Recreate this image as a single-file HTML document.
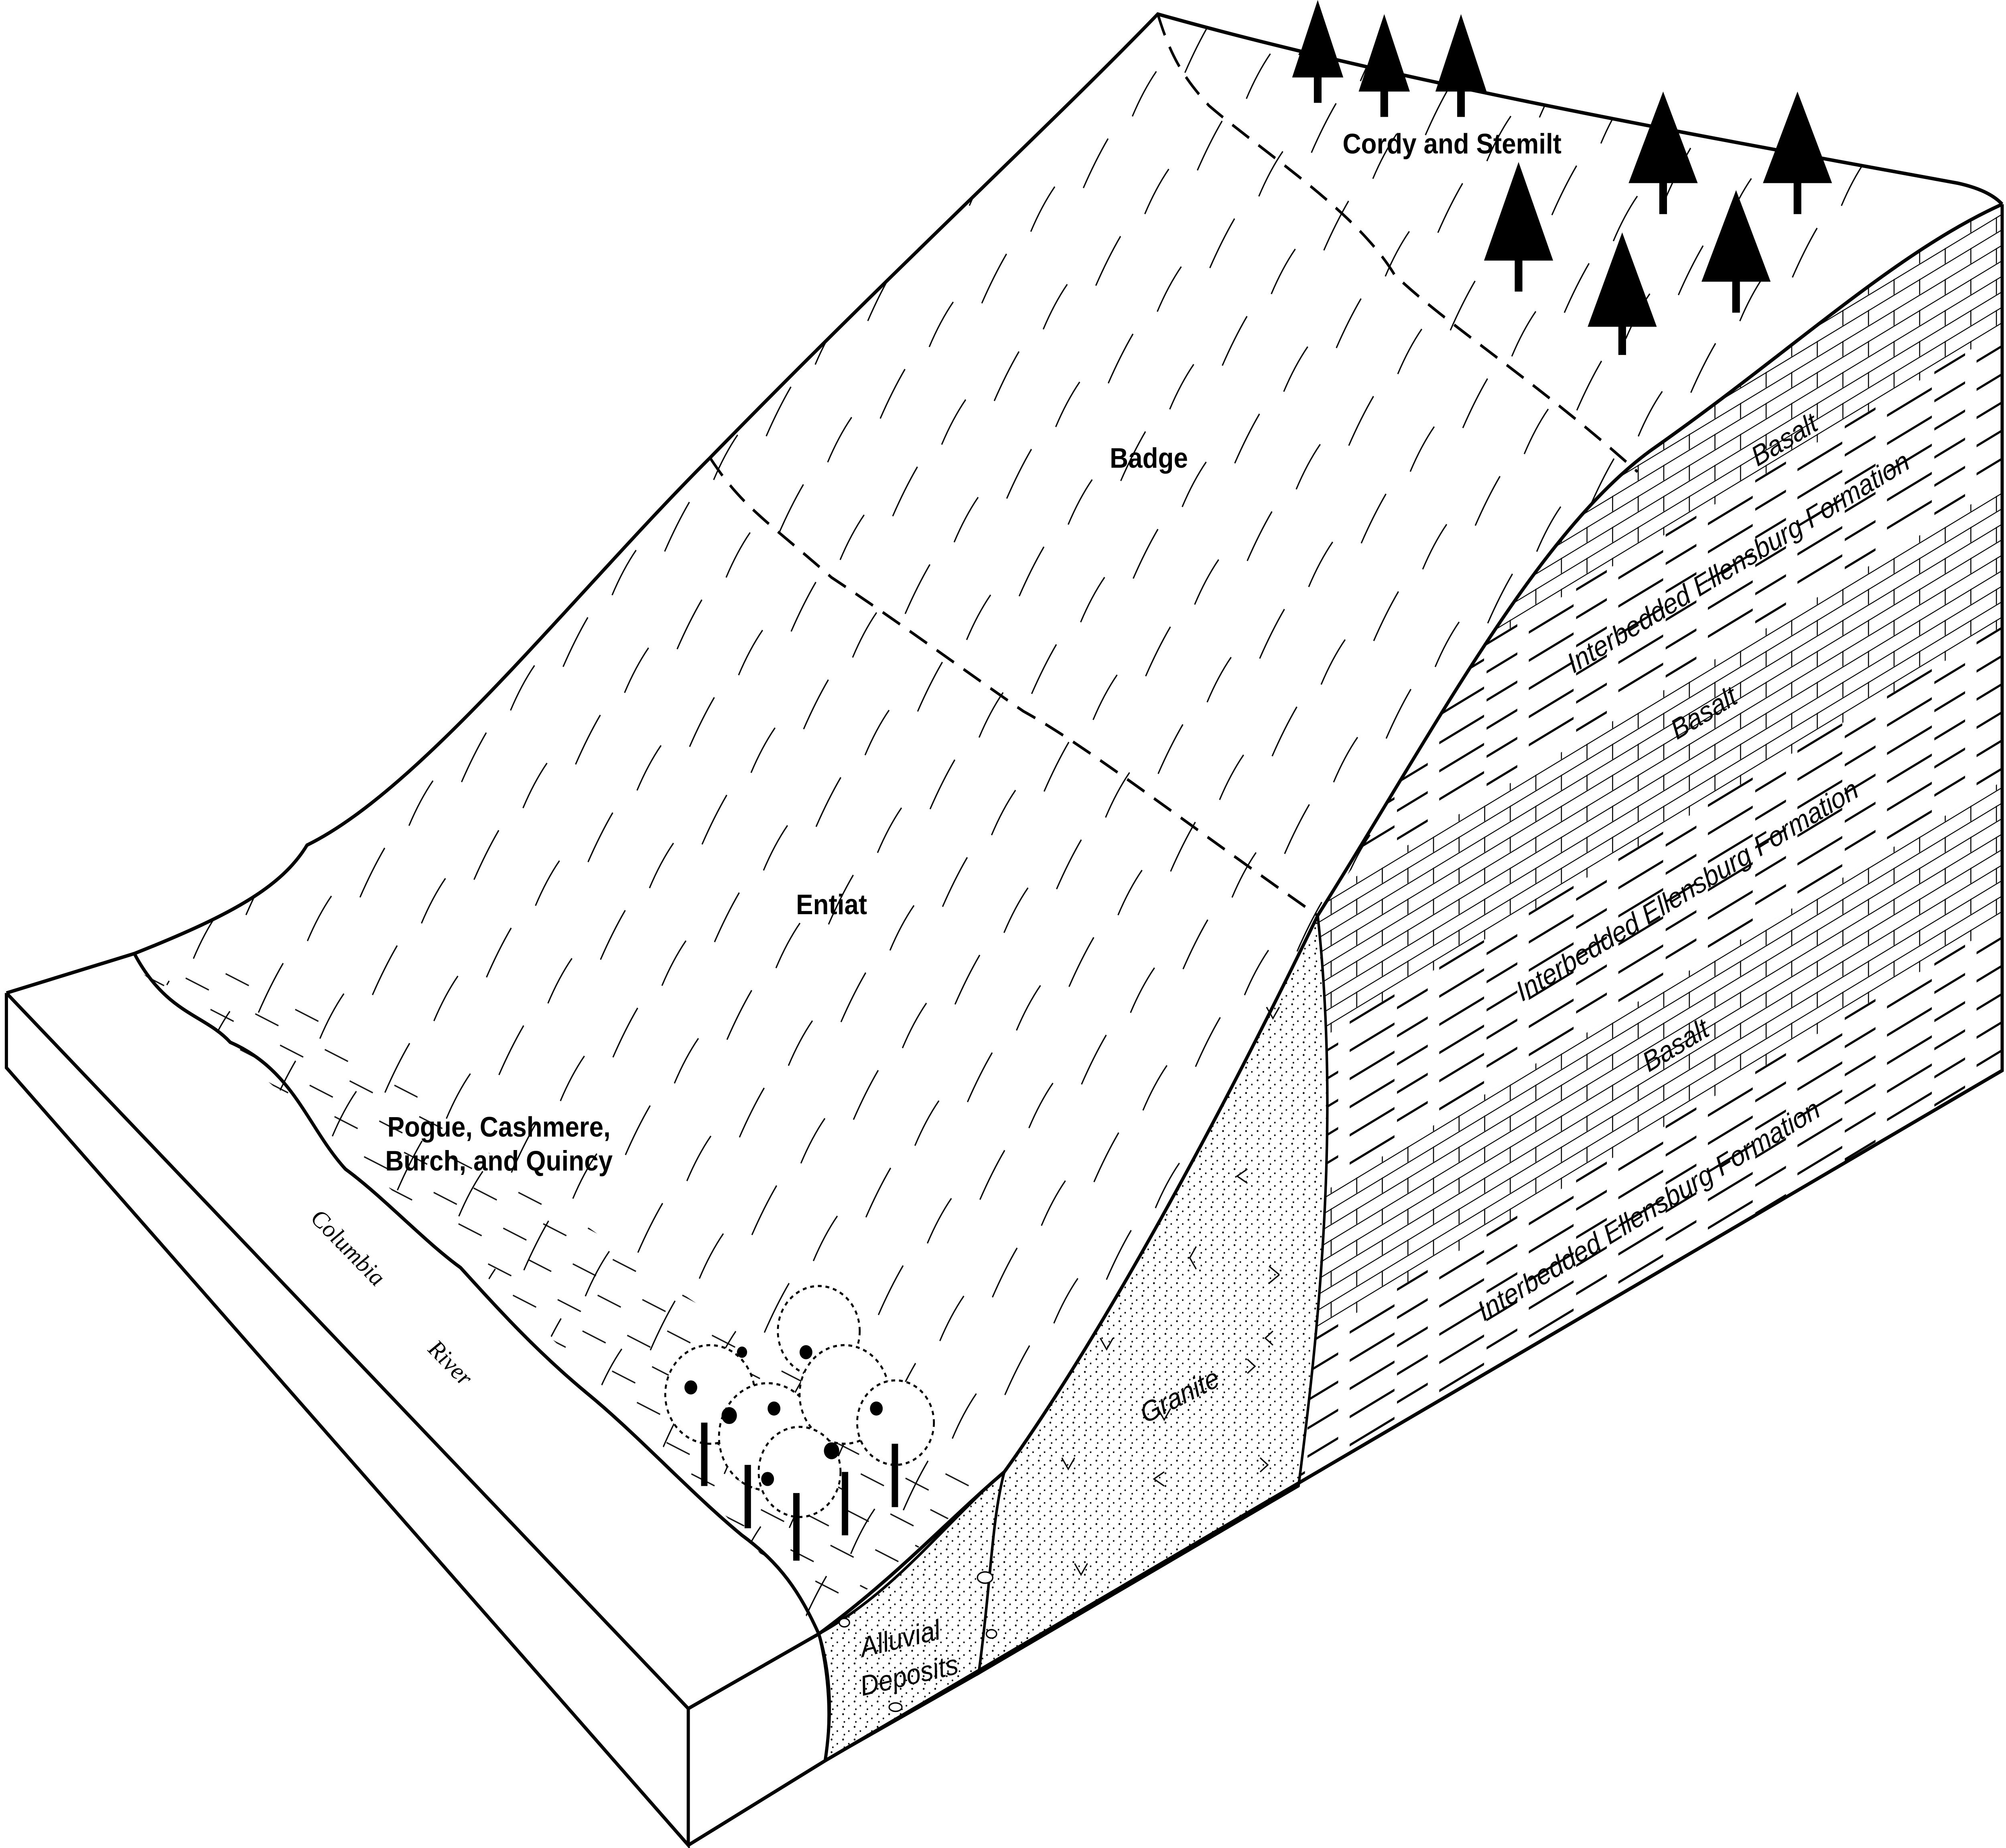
<!DOCTYPE html>
<html><head><meta charset="utf-8"><style>html,body{margin:0;padding:0;background:#fff;width:100vw;height:100vh;overflow:hidden}svg{display:block;width:100vw;height:100vh}</style></head>
<body>
<svg viewBox="0 0 1568 1312" preserveAspectRatio="none" xmlns="http://www.w3.org/2000/svg" overflow="hidden">
<defs>
<pattern id="brick" width="40" height="22" patternUnits="userSpaceOnUse">
<path d="M0 0.5H40M0 11.5H40M0.5 0V11M20.5 11V22" stroke="#000" stroke-width="0.8" fill="none"/>
</pattern>
<pattern id="dash" width="70" height="20" patternUnits="userSpaceOnUse">
<path d="M5 6H40M42 16H66" stroke="#000" stroke-width="1.8" fill="none"/>
</pattern>
<pattern id="dots" width="9" height="9" patternUnits="userSpaceOnUse">
<circle cx="2" cy="2" r="0.7" fill="#000"/><circle cx="6.5" cy="5" r="0.6" fill="#000"/><circle cx="3" cy="7.5" r="0.6" fill="#000"/>
</pattern>
<pattern id="hatch" width="90" height="70" patternUnits="userSpaceOnUse" patternTransform="rotate(-8)">
<path d="M10 40 Q22 22 34 8 M55 65 Q66 48 78 36" stroke="#000" stroke-width="1" fill="none"/>
</pattern>
<pattern id="low" width="60" height="28" patternUnits="userSpaceOnUse" patternTransform="rotate(25)">
<path d="M5 8H25M32 20H52" stroke="#000" stroke-width="1" fill="none"/>
</pattern>
<clipPath id="rf"><path d="M1030 650 C1120 520 1200 380 1290 320 C1400 250 1480 180 1565 145 L1565 760 L1015 1055 C1030 950 1048 800 1030 650 Z"/></clipPath>
</defs>
<rect width="1568" height="1312" fill="#fff"/>

<path d="M105 677 C180 650 220 630 240 600 C330 560 450 420 555 325 C700 190 820 90 905 10 C1100 60 1350 100 1530 130 C1300 320 1150 500 1030 650 C950 800 860 950 785 1045 C720 1090 680 1130 640 1160 C520 1000 300 850 105 677 Z" fill="url(#hatch)"/>
<path d="M110 690 C250 800 450 950 640 1150 C700 1120 740 1080 770 1050 C620 980 400 840 250 720 C200 690 150 680 110 690 Z" fill="url(#low)" opacity="0.9"/>

<g clip-path="url(#rf)">
<g transform="skewY(-28.8)">
<rect x="950" y="900" width="700" height="195" fill="url(#brick)"/>
<rect x="950" y="1095" width="700" height="110" fill="url(#dash)"/>
<rect x="950" y="1205" width="700" height="100" fill="url(#brick)"/>
<rect x="950" y="1305" width="700" height="110" fill="url(#dash)"/>
<rect x="950" y="1415" width="700" height="100" fill="url(#brick)"/>
<rect x="950" y="1515" width="700" height="130" fill="url(#dash)"/>
</g>
</g>

<path d="M1030 650 C1048 800 1030 950 1015 1055 L765 1188 C775 1120 775 1080 785 1045 C860 950 950 800 1030 650 Z" fill="url(#dots)" stroke="#000" stroke-width="2"/>
<g stroke="#000" stroke-width="1" fill="none">
<path d="M990 715l5 8 5-8M975 830l-8 5 8 5M935 885l-5 8 5 8M1000 905l-8-6M1000 905l-8 6M995 945l-6 5 6 5M860 950l5 8 5-8M910 1045l-8 5 8 5M985 1045l6-5-6-5M830 1035l5 8 5-8M840 1110l5 8 5-8M975 965l6 5-6 5M905 1000l5 8 5-8"/>
</g>
<path d="M640 1160 C700 1130 740 1080 785 1045 C775 1080 775 1120 765 1188 L645 1250 C650 1220 648 1190 640 1160 Z" fill="url(#dots)" stroke="#000" stroke-width="2"/>
<g stroke="#000" stroke-width="1" fill="#fff"><ellipse cx="770" cy="1120" rx="6" ry="4"/><ellipse cx="700" cy="1212" rx="5" ry="3"/><ellipse cx="660" cy="1152" rx="4" ry="3"/><ellipse cx="775" cy="1160" rx="4" ry="3"/></g>

<g stroke="#000" stroke-width="2.5" fill="none">
<path d="M5 705 L105 677 C180 650 220 630 240 600 C330 560 450 420 555 325 C700 190 820 90 905 10 C1100 60 1350 100 1530 130 Q1555 135 1565 145"/>
<path d="M1565 145 C1480 180 1400 250 1290 320 C1200 380 1120 520 1030 650 C950 800 860 950 785 1045 C740 1080 700 1120 640 1160"/>
<path d="M105 677 C130 720 160 720 180 740 C230 760 240 800 270 830 C300 850 330 880 360 900 C390 930 420 960 460 990 C500 1020 540 1060 580 1090 C610 1110 625 1130 640 1160"/>
<path d="M5 705 L538 1213 L640 1160"/>
<path d="M5 705 L5 758 L538 1310 L538 1213"/>
<path d="M538 1310 L645 1250 L1565 760 L1565 145"/>
<path d="M640 1160 C650 1190 650 1220 645 1250"/>
</g>
<g stroke="#000" stroke-width="2" fill="none" stroke-dasharray="16 9">
<path d="M905 10 C915 40 925 55 945 75 C990 110 1060 150 1090 195 C1130 230 1200 270 1280 335"/>
<path d="M555 325 C580 360 600 370 650 410 C700 440 760 480 800 505 C850 530 920 580 1030 650"/>
</g>

<g fill="#000">
<path d="M1030 0 L1050 55 L1010 55 Z M1027 55h6v18h-6z"/>
<path d="M1082 10 L1102 65 L1062 65 Z M1079 65h6v18h-6z"/>
<path d="M1142 10 L1162 65 L1122 65 Z M1139 65h6v18h-6z"/>
<path d="M1300 65 L1327 130 L1273 130 Z M1297 130h6v22h-6z"/>
<path d="M1405 65 L1432 130 L1378 130 Z M1402 130h6v22h-6z"/>
<path d="M1187 115 L1214 185 L1160 185 Z M1184 185h6v22h-6z"/>
<path d="M1357 135 L1384 200 L1330 200 Z M1354 200h6v22h-6z"/>
<path d="M1268 165 L1295 232 L1241 232 Z M1265 232h6v20h-6z"/>
</g>

<g>
<g fill="#fff" stroke="#000" stroke-width="1.5" stroke-dasharray="3 3">
<circle cx="555" cy="990" r="35"/><circle cx="640" cy="945" r="32"/><circle cx="600" cy="1020" r="38"/><circle cx="660" cy="990" r="35"/><circle cx="700" cy="1010" r="30"/><circle cx="625" cy="1045" r="32"/>
</g>
<g fill="#000"><rect x="548" y="1010" width="5" height="45"/><rect x="582" y="1040" width="5" height="45"/><rect x="620" y="1060" width="5" height="48"/><rect x="658" y="1045" width="5" height="45"/><rect x="697" y="1025" width="5" height="45"/>
<circle cx="540" cy="985" r="5"/><circle cx="570" cy="1005" r="6"/><circle cx="605" cy="1000" r="5"/><circle cx="630" cy="960" r="5"/><circle cx="650" cy="1030" r="6"/><circle cx="685" cy="1000" r="5"/><circle cx="600" cy="1050" r="5"/><circle cx="580" cy="960" r="4"/></g>
</g>

<g font-family="Liberation Sans, sans-serif" font-weight="bold" font-size="20" fill="#000" text-anchor="middle">
<text x="898" y="332">Badge</text>
<text x="1135" y="109">Cordy and Stemilt</text>
<text x="650" y="649">Entiat</text>
<text x="390" y="807">Pogue, Cashmere,</text>
<text x="390" y="831">Burch, and Quincy</text>
</g>
<g font-family="Liberation Sans, sans-serif" font-style="italic" font-size="20" fill="#000" text-anchor="middle">
<text transform="translate(1398,318) rotate(-29)">Basalt</text>
<text transform="translate(1335,512) rotate(-29)">Basalt</text>
<text transform="translate(1313,748) rotate(-29)">Basalt</text>
<text transform="translate(1362,405) rotate(-29)">Interbedded Ellensburg Formation</text>
<text transform="translate(1322,638) rotate(-29)">Interbedded Ellensburg Formation</text>
<text transform="translate(1292,865) rotate(-29)">Interbedded Ellensburg Formation</text>
<text transform="translate(925,997) rotate(-25)">Granite</text>
<text transform="translate(705,1170) rotate(-12)">Alluvial</text>
<text transform="translate(712,1196) rotate(-12)">Deposits</text>
</g>
<g font-family="Liberation Serif, serif" font-style="italic" font-size="18" fill="#000" text-anchor="middle">
<text transform="translate(268,890) rotate(43)">Columbia</text>
<text transform="translate(348,972) rotate(43)">River</text>
</g>
</svg>
</body></html>
